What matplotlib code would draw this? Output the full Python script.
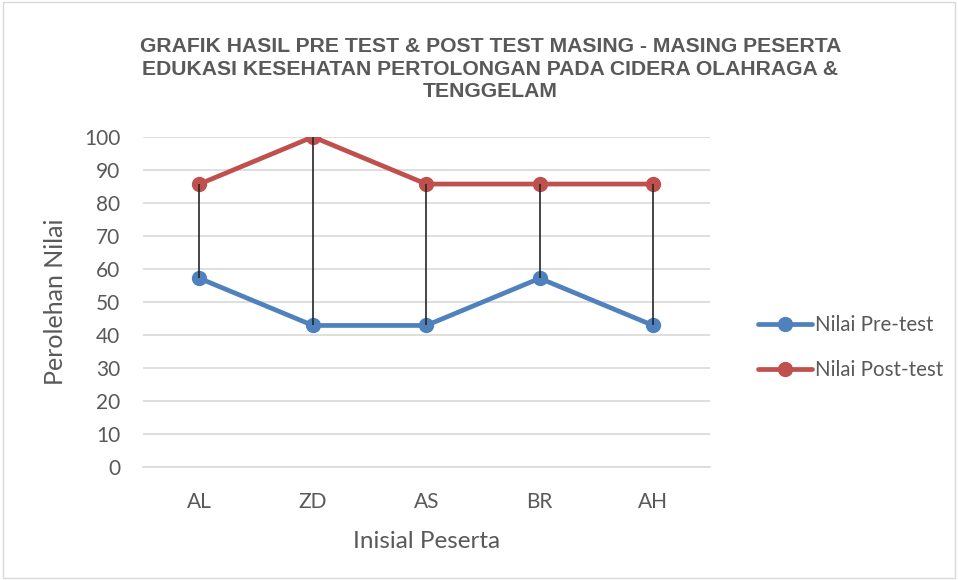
import matplotlib
matplotlib.use("Agg")
import matplotlib.pyplot as plt
from matplotlib.patches import Rectangle

categories = ["AL", "ZD", "AS", "BR", "AH"]
pre_test = [57.14, 42.86, 42.86, 57.14, 42.86]
post_test = [85.71, 100, 85.71, 85.71, 85.71]
yticks = [0, 10, 20, 30, 40, 50, 60, 70, 80, 90, 100]

blue = "#4F81BD"
red = "#C0504D"
gray = "#595959"
fam = ["Lato", "DejaVu Sans"]

fig = plt.figure(figsize=(9.58, 5.8), dpi=100)
fig.patches.append(Rectangle((0.003, 0.003), 0.994, 0.994, transform=fig.transFigure,
                             fill=False, edgecolor="#D9D9D9", linewidth=1))
ax = fig.add_axes([0.149, 0.195, 0.592, 0.569])
x = list(range(len(categories)))

ax.plot(x, pre_test, color=blue, lw=3.4, marker="o", ms=10, label="Nilai Pre-test",
        solid_capstyle="round", zorder=3)
ax.plot(x, post_test, color=red, lw=3.4, marker="o", ms=10, label="Nilai Post-test",
        solid_capstyle="round", zorder=3)
ax.vlines(x, pre_test, post_test, color="#262626", lw=1.2, zorder=4)

ax.set_xlim(-0.5, len(categories) - 0.5)
ax.set_ylim(0, 100)
ax.set_yticks(yticks)
ax.set_xticks(x)
ax.set_xticklabels(categories)
ax.grid(axis="y", color="#D9D9D9", lw=1.2, zorder=0)
ax.set_axisbelow(True)
for s in ["top", "right", "left"]:
    ax.spines[s].set_visible(False)
ax.spines["bottom"].set_color("#D9D9D9")
ax.spines["bottom"].set_linewidth(1.2)
ax.tick_params(axis="y", length=0, labelsize=15, labelcolor=gray, pad=16)
ax.tick_params(axis="x", length=0, labelsize=15, labelcolor=gray, pad=18)
for lbl in ax.get_xticklabels() + ax.get_yticklabels():
    lbl.set_family(fam)

ax.set_xlabel("Inisial Peserta", fontsize=17.5, color=gray, labelpad=14, family=fam)
ax.set_ylabel("Perolehan Nilai", fontsize=18, color=gray, labelpad=12, family=fam)

fig.text(0.512, 0.881,
         "GRAFIK HASIL PRE TEST & POST TEST MASING - MASING PESERTA\n"
         "EDUKASI KESEHATAN PERTOLONGAN PADA CIDERA OLAHRAGA &\nTENGGELAM",
         ha="center", va="center", fontsize=15.2, fontweight="bold", color=gray,
         family=["Liberation Sans", "DejaVu Sans"], linespacing=1.22)

leg = fig.legend(loc="center left", bbox_to_anchor=(0.772, 0.401), frameon=False,
                 labelspacing=1.2, handlelength=2.6, handletextpad=0.15,
                 prop={"family": fam, "size": 14.8})
for t in leg.get_texts():
    t.set_color(gray)

fig.savefig("out.png", dpi=100)
